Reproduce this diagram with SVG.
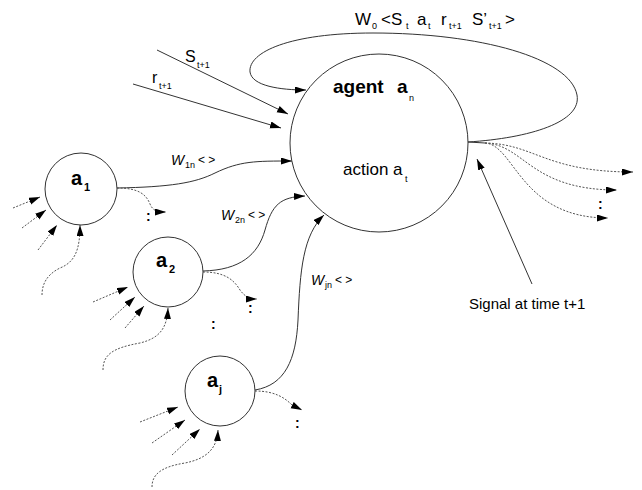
<svg xmlns="http://www.w3.org/2000/svg" width="642" height="490" viewBox="0 0 642 490">
<defs>
<marker id="ah" markerUnits="userSpaceOnUse" markerWidth="12" markerHeight="8" refX="11" refY="3.5" orient="auto">
<path d="M0,0 L11,3.5 L0,7 z" fill="#000"/>
</marker>
<style>
.node{fill:none;stroke:#333;stroke-width:1}
.ln{fill:none;stroke:#333;stroke-width:1}
.dt{fill:none;stroke:#555;stroke-width:1;stroke-dasharray:2,1.5}
.t{font-family:"Liberation Sans",Arial,sans-serif;fill:#000}
.b{font-weight:bold}
.i{font-style:italic}
.s{font-size:9px}
</style>
</defs>
<rect width="642" height="490" fill="#fff"/>

<g id="connectors">
<path class="ln" d="M468,142 C530,138 582,122 577,95 C570,58 480,33 373,33 C290,33 248,52 250,72 C252,86 280,90 306,90" marker-end="url(#ah)"/>
<path class="ln" d="M157,50 L288,114" marker-end="url(#ah)"/>
<path class="ln" d="M133,84 L281,128" marker-end="url(#ah)"/>
<path class="ln" d="M117,188 C170,187 195,183 215,173 C240,161 255,161 292,161" marker-end="url(#ah)"/>
<path class="ln" d="M203,271 C240,270 258,255 265,230 C272,205 280,197 305,196" marker-end="url(#ah)"/>
<path class="ln" d="M255,390 C285,385 296,360 298,320 C300,270 303,235 324,215" marker-end="url(#ah)"/>
<path class="ln" d="M468,142 L485,143"/>
<path class="dt" d="M485,143 C535,144 545,172 633,172" marker-end="url(#ah)"/>
<path class="dt" d="M485,143 C525,145 530,190 617,190" marker-end="url(#ah)"/>
<path class="dt" d="M485,143 C515,145 520,218 608,218" marker-end="url(#ah)"/>
<path class="ln" d="M532,284 L477,159" marker-end="url(#ah)"/>
<!-- a1 -->
<path class="dt" d="M117,188 C138,188 146,194 150,204 C153,211 157,212 166,212" marker-end="url(#ah)"/>
<path class="dt" d="M13,208 L40,197" marker-end="url(#ah)"/>
<path class="dt" d="M22,228 L46,210" marker-end="url(#ah)"/>
<path class="dt" d="M38,250 L57,225" marker-end="url(#ah)"/>
<path class="dt" d="M42,295 C42,285 46,275 60,268 C75,262 80,250 80,225" marker-end="url(#ah)"/>
<!-- a2 -->
<path class="dt" d="M203,272 C225,272 234,280 240,290 C245,297 250,299 257,299" marker-end="url(#ah)"/>
<path class="dt" d="M93,302 L128,287" marker-end="url(#ah)"/>
<path class="dt" d="M110,320 L135,297" marker-end="url(#ah)"/>
<path class="dt" d="M125,328 L144,306" marker-end="url(#ah)"/>
<path class="dt" d="M103,370 C103,355 112,348 140,343 C160,338 167,328 168,308" marker-end="url(#ah)"/>
<!-- aj -->
<path class="dt" d="M255,391 C275,391 285,398 292,405 L302,410" marker-end="url(#ah)"/>
<path class="dt" d="M140,422 L178,407" marker-end="url(#ah)"/>
<path class="dt" d="M152,443 L185,420" marker-end="url(#ah)"/>
<path class="dt" d="M172,455 L200,429" marker-end="url(#ah)"/>
<path class="dt" d="M152,487 C152,475 160,467 185,463 C205,459 217,450 218,430" marker-end="url(#ah)"/>
</g>

<g id="agent">
<circle class="node" cx="379" cy="143" r="89"/>
<text class="t b" x="333" y="93" font-size="19">agent</text>
<text class="t b" x="397" y="93" font-size="19">a</text>
<text class="t s" x="409" y="101">n</text>
<text class="t" x="343" y="175" font-size="17">action a</text>
<text class="t s" x="405" y="182">t</text>
</g>

<g id="a1">
<circle class="node" cx="81" cy="189" r="36"/>
<text class="t b" x="71" y="185" font-size="20">a</text>
<text class="t b" x="84" y="191" font-size="11">1</text>
</g>
<g id="a2">
<circle class="node" cx="168" cy="272" r="35"/>
<text class="t b" x="156" y="267" font-size="20">a</text>
<text class="t b" x="169" y="273" font-size="11">2</text>
</g>
<g id="aj">
<circle class="node" cx="220" cy="391" r="35"/>
<text class="t b" x="207" y="387" font-size="20">a</text>
<text class="t b" x="219" y="393" font-size="11">j</text>
</g>

<g id="labels">
<text class="t" x="355" y="25" font-size="17">W</text>
<text class="t s" x="372" y="29">0</text>
<text class="t" x="381" y="25" font-size="17">&lt;S</text>
<text class="t s" x="406" y="29">t</text>
<text class="t" x="417" y="25" font-size="17">a</text>
<text class="t s" x="428" y="29">t</text>
<text class="t" x="441" y="25" font-size="17">r</text>
<text class="t s" x="449" y="29">t+1</text>
<text class="t" x="472" y="25" font-size="17">S’</text>
<text class="t s" x="489" y="29">t+1</text>
<text class="t" x="505" y="25" font-size="17">&gt;</text>

<text class="t" x="185" y="62" font-size="16">S</text>
<text class="t s" x="197" y="68">t+1</text>
<text class="t" x="152" y="83" font-size="16">r</text>
<text class="t s" x="159" y="89">t+1</text>

<text class="t i" x="171" y="165" font-size="14">W</text>
<text class="t s" x="185" y="168" font-size="7">1n</text>
<text class="t" x="198" y="164" font-size="12">&lt; &gt;</text>
<text class="t i" x="221" y="220" font-size="14">W</text>
<text class="t s" x="235" y="223" font-size="7">2n</text>
<text class="t" x="248" y="219" font-size="12">&lt; &gt;</text>
<text class="t i" x="311" y="285" font-size="14">W</text>
<text class="t s" x="325" y="288" font-size="7">jn</text>
<text class="t" x="335" y="284" font-size="12">&lt; &gt;</text>

<text class="t" x="469" y="309" font-size="15">Signal at time t+1</text>

<text class="t b" x="146" y="221" font-size="14">:</text>
<text class="t b" x="248" y="313" font-size="14">:</text>
<text class="t b" x="211" y="329" font-size="14">:</text>
<text class="t b" x="295" y="428" font-size="14">:</text>
<text class="t b" x="598" y="209" font-size="14">:</text>
</g>
</svg>
